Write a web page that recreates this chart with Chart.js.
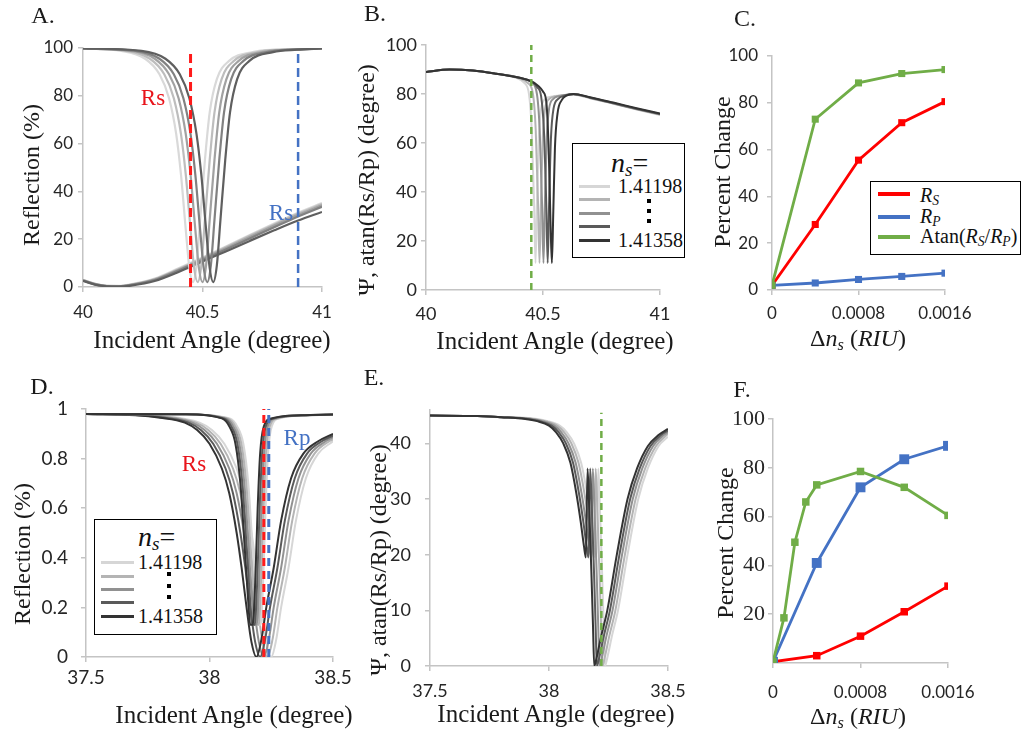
<!DOCTYPE html>
<html lang="en">
<head>
<meta charset="UTF-8">
<title>SPR reflection curves and sensitivity</title>
<script src="https://cdn.jsdelivr.net/npm/chart.js@4.4.1/dist/chart.umd.min.js"></script>
<style>
  body { margin: 0; background: #fff; }
  #fig { position: relative; width: 1026px; height: 736px; overflow: hidden; }
  #fig canvas { position: absolute; left: 0; top: 0; }
  .t { position: absolute; font-family: 'Liberation Serif', serif; color: #1a1a1a; white-space: nowrap; font-size: 24px; line-height: 1; }
  .h { transform: translate(-50%, -50%); }
  .v { transform: translate(-50%, -50%) rotate(-90deg); }
  .box { position: absolute; border: 1.5px solid #000; background: #fff; box-sizing: border-box; }
  .sw { position: absolute; height: 2.5px; }
  .dot { position: absolute; width: 4px; height: 4px; background: #000; }
  .lt { position: absolute; font-family: 'Liberation Serif', serif; font-size: 20px; line-height: 1; white-space: nowrap; color: #111; transform: translateY(-50%); }
  sub { font-size: 68%; vertical-align: -0.25em; }
</style>
</head>
<body>
<div id="fig">
  <canvas id="chA" width="1026" height="736"></canvas>
  <canvas id="chB" width="1026" height="736"></canvas>
  <canvas id="chC" width="1026" height="736"></canvas>
  <canvas id="chD" width="1026" height="736"></canvas>
  <canvas id="chE" width="1026" height="736"></canvas>
  <canvas id="chF" width="1026" height="736"></canvas>

  <!-- panel letters -->
  <div class="t h" style="left:43px;top:15px">A.</div>
  <div class="t h" style="left:375px;top:13px">B.</div>
  <div class="t h" style="left:745px;top:18px">C.</div>
  <div class="t h" style="left:42px;top:386px">D.</div>
  <div class="t h" style="left:374px;top:377px">E.</div>
  <div class="t h" style="left:742px;top:389px">F.</div>

  <!-- axis titles -->
  <div class="t v" style="left:31px;top:175px">Reflection (%)</div>
  <div class="t h" style="left:212px;top:339px;font-size:25px">Incident Angle (degree)</div>
  <div class="t v" style="left:366px;top:180px">Ψ, atan(Rs/Rp) (degree)</div>
  <div class="t h" style="left:555px;top:340px;font-size:25px">Incident Angle (degree)</div>
  <div class="t v" style="left:722px;top:172px">Percent Change</div>
  <div class="t h" style="left:858px;top:340px">Δ<i>n</i><sub><i>s</i></sub> (<i>RIU</i>)</div>
  <div class="t v" style="left:22px;top:554px">Reflection (%)</div>
  <div class="t h" style="left:234px;top:714px;font-size:25px">Incident Angle (degree)</div>
  <div class="t v" style="left:378px;top:560px">Ψ, atan(Rs/Rp) (degree)</div>
  <div class="t h" style="left:556px;top:713px;font-size:25px">Incident Angle (degree)</div>
  <div class="t v" style="left:725px;top:543px">Percent Change</div>
  <div class="t h" style="left:858px;top:718px">Δ<i>n</i><sub><i>s</i></sub> (<i>RIU</i>)</div>

  <!-- dashed line labels -->
  <div class="t h" style="left:153px;top:97px;color:#e8141b;font-size:23px">Rs</div>
  <div class="t h" style="left:281px;top:212px;color:#4472c4;font-size:23px">Rs</div>
  <div class="t h" style="left:194px;top:463px;color:#e8141b;font-size:23px">Rs</div>
  <div class="t h" style="left:297px;top:437px;color:#4472c4;font-size:23px">Rp</div>

  <!-- legend B -->
  <div class="box" style="left:572px;top:143px;width:113px;height:115px">
    <div class="lt" style="left:38px;top:20px;font-size:28px"><i>n</i><sub><i>s</i></sub>=</div>
    <div class="sw" style="left:6px;top:41px;width:31px;background:#d6d6d6"></div>
    <div class="sw" style="left:6px;top:54px;width:31px;background:#b4b4b4"></div>
    <div class="sw" style="left:6px;top:68px;width:31px;background:#919191"></div>
    <div class="sw" style="left:6px;top:81px;width:31px;background:#5a5a5a"></div>
    <div class="sw" style="left:6px;top:95px;width:31px;background:#333333"></div>
    <div class="lt" style="left:45px;top:42px">1.41198</div>
    <div class="dot" style="left:74px;top:55px"></div>
    <div class="dot" style="left:74px;top:65px"></div>
    <div class="dot" style="left:74px;top:75px"></div>
    <div class="lt" style="left:45px;top:96px">1.41358</div>
  </div>

  <!-- legend C -->
  <div class="box" style="left:870px;top:181px;width:151px;height:74px">
    <div class="sw" style="left:7px;top:10px;width:32px;height:4px;background:#ff0000"></div>
    <div class="sw" style="left:7px;top:33px;width:32px;height:4px;background:#4472c4"></div>
    <div class="sw" style="left:7px;top:53px;width:32px;height:4px;background:#70ad47"></div>
    <div class="lt" style="left:49px;top:14px"><i>R</i><sub><i>S</i></sub></div>
    <div class="lt" style="left:49px;top:35px"><i>R</i><sub><i>P</i></sub></div>
    <div class="lt" style="left:49px;top:55px">Atan(<i>R</i><sub><i>S</i></sub>/<i>R</i><sub><i>P</i></sub>)</div>
  </div>

  <!-- legend D -->
  <div class="box" style="left:94px;top:519px;width:123px;height:116px">
    <div class="lt" style="left:43px;top:18px;font-size:28px"><i>n</i><sub><i>s</i></sub>=</div>
    <div class="sw" style="left:6px;top:41px;width:33px;background:#d6d6d6"></div>
    <div class="sw" style="left:6px;top:55px;width:33px;background:#b4b4b4"></div>
    <div class="sw" style="left:6px;top:68px;width:33px;background:#919191"></div>
    <div class="sw" style="left:6px;top:81px;width:33px;background:#5a5a5a"></div>
    <div class="sw" style="left:6px;top:95px;width:33px;background:#333333"></div>
    <div class="lt" style="left:43px;top:42px">1.41198</div>
    <div class="dot" style="left:72px;top:52px"></div>
    <div class="dot" style="left:72px;top:64px"></div>
    <div class="dot" style="left:72px;top:75px"></div>
    <div class="lt" style="left:43px;top:96px">1.41358</div>
  </div>
</div>

<script>
// ---- A: 40-41 deg scan, five sensing-layer indices (rows: 1.41198 ... 1.41358) ----
const aAngleTicks = [40, 40.5, 41];
const aReflTicks = [0, 20, 40, 60, 80, 100];
// reflection levels each Rs curve passes through, and the angle where it does
const aRsLevels = [99.8, 98.8, 95.5, 89, 79, 64, 47, 24, 8, 2, 9, 28, 53, 73, 87, 94.5, 98.3, 99.3, 99.8];
const aRsAngles = [
  [40, 40.16, 40.26, 40.32, 40.36, 40.39, 40.41, 40.43, 40.445, 40.46, 40.475, 40.49, 40.51, 40.53, 40.56, 40.61, 40.71, 40.81, 41],
  [40, 40.18, 40.28, 40.34, 40.38, 40.41, 40.43, 40.45, 40.465, 40.48, 40.495, 40.51, 40.53, 40.55, 40.58, 40.63, 40.73, 40.83, 41],
  [40, 40.2, 40.3, 40.36, 40.4, 40.43, 40.45, 40.47, 40.485, 40.5, 40.515, 40.53, 40.55, 40.57, 40.6, 40.65, 40.75, 40.85, 41],
  [40, 40.22, 40.32, 40.38, 40.42, 40.45, 40.47, 40.49, 40.505, 40.52, 40.535, 40.55, 40.57, 40.59, 40.62, 40.67, 40.77, 40.87, 41],
  [40, 40.245, 40.345, 40.405, 40.445, 40.475, 40.495, 40.515, 40.53, 40.545, 40.56, 40.575, 40.595, 40.615, 40.645, 40.695, 40.795, 40.895, 41]
];
const aRpAngles = [40, 40.05, 40.1, 40.15, 40.2, 40.3, 40.4, 40.5, 40.6, 40.7, 40.8, 40.9, 41];
const aRpRefl = [
  [3.0, 1.4, 0.5, 0.45, 1.1, 3.5, 7.8, 12.3, 17.0, 21.9, 26.6, 31.1, 35.1],
  [2.9, 1.3, 0.45, 0.4, 1.0, 3.3, 7.5, 12.0, 16.7, 21.5, 26.2, 30.7, 34.7],
  [2.8, 1.2, 0.4, 0.35, 0.9, 3.1, 7.2, 11.7, 16.3, 21.0, 25.7, 30.2, 34.2],
  [2.7, 1.1, 0.35, 0.3, 0.8, 2.9, 6.9, 11.3, 15.8, 20.4, 25.0, 29.5, 33.6],
  [2.6, 1.0, 0.3, 0.2, 0.6, 2.5, 6.3, 10.7, 15.0, 19.4, 23.7, 27.8, 31.4]
];

// ---- B: Psi over the same scan ----
const bPsiTicks = [0, 20, 40, 60, 80, 100];
const bAngles = [
  [40, 40.1, 40.2, 40.3, 40.38, 40.42, 40.44, 40.452, 40.462, 40.468, 40.474, 40.482, 40.492, 40.51, 40.54, 40.6, 40.63, 40.7, 40.8, 40.9, 41],
  [40, 40.1, 40.2, 40.3, 40.39, 40.435, 40.457, 40.469, 40.479, 40.485, 40.491, 40.499, 40.509, 40.527, 40.557, 40.6, 40.63, 40.7, 40.8, 40.9, 41],
  [40, 40.1, 40.2, 40.3, 40.4, 40.45, 40.474, 40.486, 40.496, 40.502, 40.508, 40.516, 40.526, 40.544, 40.574, 40.61, 40.63, 40.7, 40.8, 40.9, 41],
  [40, 40.1, 40.2, 40.3, 40.4, 40.45, 40.475, 40.492, 40.504, 40.514, 40.52, 40.526, 40.534, 40.545, 40.565, 40.59, 40.63, 40.7, 40.8, 40.9, 41],
  [40, 40.1, 40.2, 40.3, 40.4, 40.45, 40.48, 40.5, 40.515, 40.525, 40.532, 40.538, 40.544, 40.551, 40.562, 40.58, 40.6, 40.63, 40.7, 40.8, 40.9, 41]
];
const bPsi = [
  [89, 90, 89.6, 88.3, 86.8, 84.5, 80, 65, 35, 11, 35, 62, 74, 78, 79, 79.6, 79.7, 78.3, 76, 73.7, 71.4],
  [89, 90, 89.6, 88.3, 86.6, 84.5, 80, 65, 35, 11, 35, 62, 74, 78, 79.1, 79.7, 79.8, 78.4, 76.1, 73.8, 71.6],
  [89, 90, 89.6, 88.3, 86.6, 84.8, 80, 65, 35, 11, 35, 62, 74, 78, 79.2, 79.8, 79.9, 78.5, 76.2, 73.9, 71.7],
  [89, 90, 89.6, 88.3, 86.6, 85.1, 82.8, 79, 65, 35, 11, 35, 62, 74, 78, 79.3, 80, 78.6, 76.3, 74, 71.8],
  [89, 90, 89.6, 88.3, 86.6, 85.2, 83.3, 81, 76, 55, 28, 11, 32, 58, 72, 77.5, 79.3, 80, 78.7, 76.5, 74.2, 72]
];

// ---- C: percent change vs index step ----
const cDelta = [0, 0.0004, 0.0008, 0.0012, 0.0016];
const cRs = [2, 28, 55.5, 71.5, 80.5];
const cRp = [2, 3, 4.5, 5.8, 7.2];
const cAtan = [2, 73, 88.5, 92.5, 94.2];
const deltaTicks = [0, 0.0008, 0.0016];
const pctTicks = [0, 20, 40, 60, 80, 100];

// ---- D: 37.5-38.5 deg scan, broad and narrow resonances (rows: 1.41198 ... 1.41358) ----
const dAngleTicks = [37.5, 38, 38.5];
const dReflTicks = [0, 0.2, 0.4, 0.6, 0.8, 1];
const dWideAngles = [
  [37.5, 37.7, 37.8, 37.96, 38.01, 38.06, 38.11, 38.14, 38.17, 38.19, 38.21, 38.23, 38.25, 38.27, 38.29, 38.32, 38.35, 38.39, 38.44, 38.5],
  [37.5, 37.7, 37.8, 37.945, 37.995, 38.045, 38.095, 38.125, 38.155, 38.175, 38.195, 38.215, 38.235, 38.255, 38.275, 38.305, 38.335, 38.375, 38.425, 38.485, 38.5],
  [37.5, 37.7, 37.8, 37.93, 37.98, 38.03, 38.08, 38.11, 38.14, 38.16, 38.18, 38.2, 38.22, 38.24, 38.26, 38.29, 38.32, 38.36, 38.41, 38.47, 38.5],
  [37.5, 37.7, 37.8, 37.915, 37.965, 38.015, 38.065, 38.095, 38.125, 38.145, 38.165, 38.185, 38.205, 38.225, 38.245, 38.275, 38.305, 38.345, 38.395, 38.455, 38.5],
  [37.5, 37.7, 37.8, 37.9, 37.95, 38.0, 38.05, 38.08, 38.11, 38.13, 38.15, 38.17, 38.19, 38.21, 38.23, 38.26, 38.29, 38.33, 38.38, 38.44, 38.5]
];
const dWideRefl = [
  [0.98, 0.977, 0.972, 0.945, 0.915, 0.86, 0.76, 0.66, 0.5, 0.36, 0.2, 0.06, 0, 0.07, 0.2, 0.36, 0.55, 0.72, 0.82, 0.87],
  [0.98, 0.977, 0.971, 0.945, 0.915, 0.86, 0.76, 0.66, 0.5, 0.36, 0.2, 0.06, 0, 0.07, 0.2, 0.36, 0.55, 0.72, 0.82, 0.87, 0.877],
  [0.98, 0.977, 0.969, 0.945, 0.915, 0.86, 0.76, 0.66, 0.5, 0.36, 0.2, 0.06, 0, 0.07, 0.2, 0.36, 0.55, 0.72, 0.82, 0.87, 0.886],
  [0.98, 0.976, 0.967, 0.945, 0.915, 0.86, 0.76, 0.66, 0.5, 0.36, 0.2, 0.06, 0, 0.07, 0.2, 0.36, 0.55, 0.72, 0.82, 0.87, 0.893],
  [0.98, 0.975, 0.965, 0.945, 0.915, 0.86, 0.76, 0.66, 0.5, 0.36, 0.2, 0.06, 0, 0.07, 0.2, 0.36, 0.55, 0.72, 0.82, 0.87, 0.9]
];
const dNarrowLevels = [0.98, 0.979, 0.962, 0.93, 0.86, 0.7, 0.45, 0.25, 0.13, 0.13, 0.3, 0.6, 0.82, 0.93, 0.962, 0.975, 0.978];
const dNarrowAngles = [
  [37.5, 37.9, 38.082, 38.112, 38.137, 38.157, 38.174, 38.187, 38.197, 38.207, 38.217, 38.227, 38.237, 38.252, 38.282, 38.402, 38.5],
  [37.5, 37.9, 38.074, 38.104, 38.129, 38.149, 38.166, 38.179, 38.189, 38.199, 38.209, 38.219, 38.229, 38.244, 38.274, 38.394, 38.5],
  [37.5, 37.9, 38.066, 38.096, 38.121, 38.141, 38.158, 38.171, 38.181, 38.191, 38.201, 38.211, 38.221, 38.236, 38.266, 38.386, 38.5],
  [37.5, 37.9, 38.058, 38.088, 38.113, 38.133, 38.15, 38.163, 38.173, 38.183, 38.193, 38.203, 38.213, 38.228, 38.258, 38.378, 38.5],
  [37.5, 37.9, 38.05, 38.08, 38.105, 38.125, 38.142, 38.155, 38.165, 38.175, 38.185, 38.195, 38.205, 38.22, 38.25, 38.37, 38.5]
];

// ---- E: Psi over the 37.5-38.5 scan (rows: 1.41198 ... 1.41358) ----
const ePsiTicks = [0, 10, 20, 30, 40];
const eAngles = [
  [37.5, 37.7, 37.8, 37.9, 37.995, 38.045, 38.075, 38.105, 38.135, 38.16, 38.178, 38.192, 38.2, 38.207, 38.215, 38.223, 38.23, 38.235, 38.245, 38.265, 38.29, 38.33, 38.375, 38.415, 38.46, 38.5],
  [37.5, 37.7, 37.8, 37.9, 37.984, 38.034, 38.064, 38.094, 38.124, 38.149, 38.167, 38.181, 38.189, 38.196, 38.204, 38.212, 38.219, 38.224, 38.234, 38.254, 38.279, 38.319, 38.364, 38.404, 38.449, 38.494, 38.5],
  [37.5, 37.7, 37.8, 37.9, 37.972, 38.022, 38.052, 38.082, 38.112, 38.137, 38.155, 38.169, 38.177, 38.184, 38.192, 38.2, 38.207, 38.212, 38.222, 38.242, 38.267, 38.307, 38.352, 38.392, 38.437, 38.482, 38.5],
  [37.5, 37.7, 37.8, 37.9, 37.961, 38.011, 38.041, 38.071, 38.101, 38.126, 38.144, 38.158, 38.166, 38.173, 38.181, 38.189, 38.196, 38.201, 38.211, 38.231, 38.256, 38.296, 38.341, 38.381, 38.426, 38.471, 38.5],
  [37.5, 37.7, 37.8, 37.9, 37.95, 38.0, 38.03, 38.06, 38.09, 38.115, 38.133, 38.147, 38.155, 38.162, 38.17, 38.178, 38.185, 38.19, 38.2, 38.22, 38.245, 38.285, 38.33, 38.37, 38.415, 38.46, 38.5]
];
const ePsi = [
  [45, 44.9, 44.7, 44.6, 44.0, 43.2, 42.0, 40.0, 36.5, 31, 26, 21.5, 19.5, 35.5, 27, 17, 7, 0, 1.5, 5.5, 10, 20, 30, 35.5, 39.5, 41.2],
  [45, 44.9, 44.7, 44.55, 44.0, 43.2, 42.0, 40.0, 36.5, 31, 26, 21.5, 19.5, 35.5, 27, 17, 7, 0, 1.5, 5.5, 10, 20, 30, 35.5, 39.5, 41.5, 41.7],
  [45, 44.9, 44.7, 44.5, 44.0, 43.2, 42.0, 40.0, 36.5, 31, 26, 21.5, 19.5, 35.5, 27, 17, 7, 0, 1.5, 5.5, 10, 20, 30, 35.5, 39.5, 41.5, 42.0],
  [45, 44.9, 44.7, 44.45, 44.0, 43.2, 42.0, 40.0, 36.5, 31, 26, 21.5, 19.5, 35.5, 27, 17, 7, 0, 1.5, 5.5, 10, 20, 30, 35.5, 39.5, 41.5, 42.3],
  [45, 44.9, 44.7, 44.4, 44.0, 43.2, 42.0, 40.0, 36.5, 31, 26, 21.5, 19.5, 35.5, 27, 17, 7, 0, 1.5, 5.5, 10, 20, 30, 35.5, 39.5, 41.5, 42.6]
];

// ---- F: percent change for the second scan ----
const fDelta = [0, 0.0004, 0.0008, 0.0012, 0.0016];
const fRs = [0.5, 3, 11, 21, 31.5];
const fRp = [0.5, 41, 72, 83.5, 89];
const fAtanDelta = [0, 0.0001, 0.0002, 0.0003, 0.0004, 0.0008, 0.0012, 0.0016];
const fAtan = [0.5, 18.5, 49.5, 66, 73, 78.5, 72, 60.5];
const fPctTicks = [20, 40, 60, 80, 100];

// light -> dark, same order as the data rows
const grayA = ['#d9d9d9', '#bdbdbd', '#a1a1a1', '#818181', '#5f5f5f'];
const grays = ['#d6d6d6', '#b4b4b4', '#919191', '#5a5a5a', '#333333'];
const RED = '#ff0000', BLUE = '#4472c4', GREEN = '#70ad47';

Chart.defaults.font.family = 'Lato';

const pts = (xs, ys) => xs.map((x, i) => ({ x: x, y: ys[i] }));

function curve(xs, ys, color, width) {
  return {
    data: pts(xs, ys), borderColor: color, borderWidth: width || 2,
    pointRadius: 0, cubicInterpolationMode: 'monotone', fill: false
  };
}

function marker(xs, ys, color, size) {
  return {
    data: pts(xs, ys), borderColor: color, backgroundColor: color, borderWidth: 2.8,
    pointStyle: 'rect', pointRadius: size, pointBorderWidth: 0, tension: 0, fill: false
  };
}

function vline(x, y0, y1, color, width, dash) {
  return {
    data: [{ x: x, y: y0 }, { x: x, y: y1 }], borderColor: color, borderWidth: width,
    borderDash: dash, pointRadius: 0, fill: false
  };
}

function axis(o, horizontal) {
  return {
    type: 'linear', min: o.min, max: o.max,
    afterFit: s => { if (horizontal) s.height = 40; else s.width = 60; },
    afterBuildTicks: s => { s.ticks = o.ticks.map(v => ({ value: v })); },
    grid: { drawOnChartArea: false, color: '#c4c4c4', tickLength: 5, lineWidth: 1.5 },
    border: { color: '#c4c4c4', width: 1.5 },
    ticks: {
      font: o.font, color: '#262626', padding: o.pad,
      maxRotation: 0, autoSkip: false, callback: v => String(v)
    }
  };
}

// area = [left, top, right, bottom] of the plot box on the page
function panel(id, area, x, y, datasets) {
  new Chart(document.getElementById(id), {
    type: 'line',
    data: { datasets: datasets },
    options: {
      responsive: false, animation: false, events: [],
      layout: { padding: { left: area[0] - 60, top: area[1], right: 1026 - area[2], bottom: 736 - area[3] - 40 } },
      plugins: { legend: { display: false }, tooltip: { enabled: false } },
      scales: { x: axis(x, true), y: axis(y, false) }
    }
  });
}

// datasets earlier in the list are painted on top, so dark rows go first
const setsA = [
  vline(40.45, 0, 98, '#ff1a1a', 3, [9, 5]),
  vline(40.9, 0, 98, BLUE, 2.5, [9, 5])
];
for (let i = 4; i >= 0; i--) setsA.push(curve(aRsAngles[i], aRsLevels, grayA[i], 2.2));
for (let i = 4; i >= 0; i--) setsA.push(curve(aRpAngles, aRpRefl[i], grayA[i], 2.2));
panel('chA', [83, 48, 322, 287],
  { min: 40, max: 41, ticks: aAngleTicks, font: { size: 17 }, pad: 10 },
  { min: 0, max: 100, ticks: aReflTicks, font: { size: 17 }, pad: 5 }, setsA);

const setsB = [vline(40.45, 0, 100, GREEN, 2.5, [7, 5])];
for (let i = 4; i >= 0; i--) setsB.push(curve(bAngles[i], bPsi[i], grays[i], 2));
panel('chB', [426, 45, 660, 290],
  { min: 40, max: 41, ticks: aAngleTicks, font: { size: 18 }, pad: 8 },
  { min: 0, max: 100, ticks: bPsiTicks, font: { size: 18 }, pad: 4 }, setsB);

panel('chC', [772, 56, 945, 290],
  { min: 0, max: 0.0016, ticks: deltaTicks, font: { size: 17 }, pad: 8 },
  { min: 0, max: 100, ticks: pctTicks, font: { size: 17 }, pad: 9 },
  [marker(cDelta, cAtan, GREEN, 5), marker(cDelta, cRp, BLUE, 5), marker(cDelta, cRs, RED, 5)]);

const setsD = [
  vline(38.22, 0, 1, '#ff1a1a', 3, [8, 5]),
  vline(38.24, 0, 1, BLUE, 3, [8, 5])
];
for (let i = 4; i >= 0; i--) setsD.push(curve(dNarrowAngles[i], dNarrowLevels, grays[i], 2));
for (let i = 4; i >= 0; i--) setsD.push(curve(dWideAngles[i], dWideRefl[i], grays[i], 2));
panel('chD', [86, 409, 333, 657],
  { min: 37.5, max: 38.5, ticks: dAngleTicks, font: { size: 19 }, pad: 4 },
  { min: 0, max: 1, ticks: dReflTicks, font: { size: 19 }, pad: 13 }, setsD);

const setsE = [vline(38.22, 0, 45.5, GREEN, 2.5, [7, 5])];
for (let i = 4; i >= 0; i--) setsE.push(curve(eAngles[i], ePsi[i], grays[i], 2));
panel('chE', [430, 410, 668, 666],
  { min: 37.5, max: 38.5, ticks: dAngleTicks, font: { size: 18 }, pad: 9 },
  { min: 0, max: 46, ticks: ePsiTicks, font: { size: 18 }, pad: 14 }, setsE);

panel('chF', [773, 419, 948, 663],
  { min: 0, max: 0.0016, ticks: deltaTicks, font: { size: 17 }, pad: 14 },
  { min: 0, max: 100, ticks: fPctTicks, font: { family: 'Liberation Serif', size: 22 }, pad: 3 },
  [marker(fAtanDelta, fAtan, GREEN, 5.3), marker(fDelta, fRp, BLUE, 7), marker(fDelta, fRs, RED, 5.3)]);
</script>
</body>
</html>
